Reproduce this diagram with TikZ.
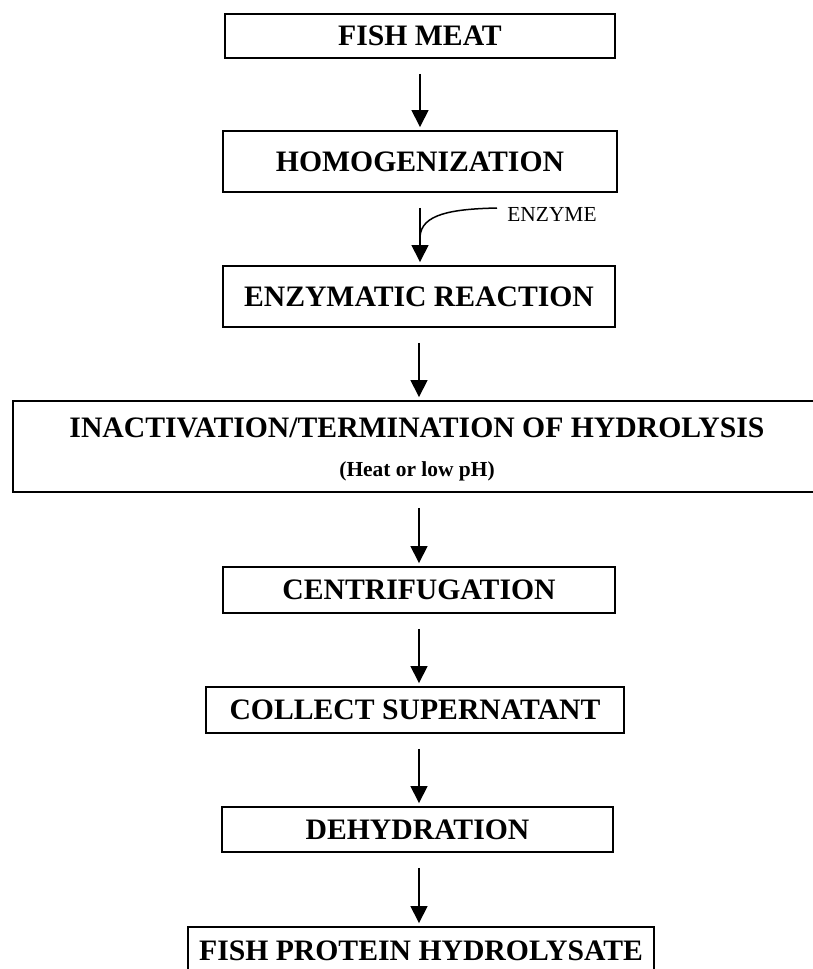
\documentclass[tikz,border=0pt]{standalone}
\usepackage{fontspec}
\setmainfont{Liberation Serif}
\usetikzlibrary{arrows.meta}
\begin{document}
\begin{tikzpicture}[x=1bp,y=-1bp,
  box/.style={draw, line width=1.9bp, inner sep=0pt, font=\fontsize{29.8}{31}\selectfont\bfseries},
  lbl/.style={inner sep=0pt, font=\fontsize{29.8}{31}\selectfont\bfseries},
  arr/.style={line width=1.5bp, -{Triangle[width=17bp,length=17bp]}, shorten <=15bp, shorten >=3bp}]
\useasboundingbox (0,0) rectangle (813,969);

\node[box, minimum width=390bp, minimum height=44bp] (fish) at (420,36) {FISH MEAT};
\node[box, minimum width=394bp, minimum height=61bp] (homog) at (420,161.5) {HOMOGENIZATION};
\node[box, minimum width=392bp, minimum height=61bp] (enz) at (419,296.5) {ENZYMATIC REACTION};
\node[box, minimum width=812bp, minimum height=91bp] (inact) at (419,446.5) {};
\node[lbl] (inact1) at (417,428) {INACTIVATION/TERMINATION OF HYDROLYSIS};
\node[lbl, font=\fontsize{21.5}{22}\selectfont\bfseries] (inact2) at (417,471) {(Heat or low pH)};
\node[box, minimum width=392bp, minimum height=46bp] (centrif) at (419,590) {CENTRIFUGATION};
\node[box, minimum width=418bp, minimum height=46bp] (collect) at (415,710) {COLLECT SUPERNATANT};
\node[box, minimum width=391bp, minimum height=45bp] (dehyd) at (417.5,829.5) {DEHYDRATION};
\node[box, minimum width=466bp, minimum height=48bp] (fph) at (421,951) {FISH PROTEIN HYDROLYSATE};

\node[inner sep=0pt, font=\fontsize{21.5}{22}\selectfont] (enzyme) at (552,214) {ENZYME};
\coordinate (cstart) at (497,208);
\coordinate (cjoin) at (420,237);

\draw[arr] (fish.south) -- (fish.south |- homog.north);
\draw[arr] (homog.south) -- (homog.south |- enz.north);
\draw[line width=1.5bp] (cstart) .. controls (452,209) and (421,214) .. (cjoin);
\draw[arr] (enz.south) -- (enz.south |- inact.north);
\draw[arr] (inact.south -| enz.south) -- (enz.south |- centrif.north);
\draw[arr] (centrif.south -| enz.south) -- (enz.south |- collect.north);
\draw[arr] (collect.south -| enz.south) -- (enz.south |- dehyd.north);
\draw[arr] (dehyd.south -| enz.south) -- (enz.south |- fph.north);
\end{tikzpicture}
\end{document}
